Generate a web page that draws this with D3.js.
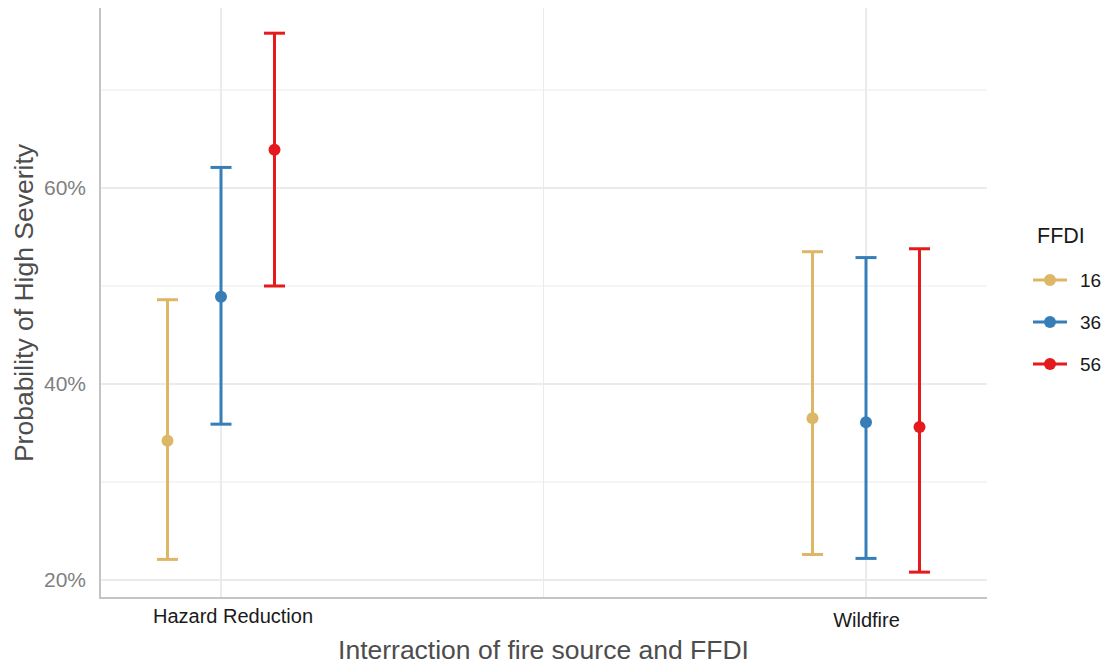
<!DOCTYPE html>
<html>
<head>
<meta charset="utf-8">
<script src="https://cdn.jsdelivr.net/npm/d3@7"></script>
<style>
  body { margin: 0; background: #fff; }
  svg { font-family: Arial, "Liberation Sans", sans-serif; }
</style>
</head>
<body>
<svg id="chart" width="1103" height="664"></svg>
<script>
// fire sources on the x axis, FFDI levels as series
const sources = ['Hazard Reduction', 'Wildfire']
const ffdi = ['16', '36', '56']
const colors = ['#DDB766', '#377EB8', '#E41A1C']

// estimate, lower and upper bound per source, in FFDI order
const estimate = {
  'Hazard Reduction': [0.342, 0.489, 0.639],
  'Wildfire': [0.365, 0.361, 0.356]
}
const lower = {
  'Hazard Reduction': [0.221, 0.359, 0.500],
  'Wildfire': [0.226, 0.222, 0.208]
}
const upper = {
  'Hazard Reduction': [0.486, 0.621, 0.758],
  'Wildfire': [0.535, 0.529, 0.538]
}
const majorTicks = [0.2, 0.4, 0.6]
const minorTicks = [0.3, 0.5, 0.7]

let svg = d3.select('#chart')
let pLeft = 100, pRight = 987, pTop = 8, pBottom = 598

let x = d3.scalePoint().domain(sources).range([pLeft, pRight]).padding(0.1876)
let dodge = d3.scalePoint().domain(ffdi).range([-53.5, 53.5])
let y = d3.scaleLinear().domain([0.1816, 0.7837]).range([pBottom, pTop])
let color = d3.scaleOrdinal().domain(ffdi).range(colors)

// grid
let grid = svg.append('g')
grid.selectAll('.minor').data(minorTicks).join('line')
  .attr('x1', pLeft).attr('x2', pRight)
  .attr('y1', d => y(d)).attr('y2', d => y(d))
  .attr('stroke', '#ebebeb').attr('stroke-width', 1)
grid.selectAll('.vminor').data([(x(sources[0]) + x(sources[1])) / 2]).join('line')
  .attr('x1', d => d).attr('x2', d => d)
  .attr('y1', pTop).attr('y2', pBottom)
  .attr('stroke', '#ebebeb').attr('stroke-width', 1)
grid.selectAll('.major').data(majorTicks).join('line')
  .attr('x1', pLeft).attr('x2', pRight)
  .attr('y1', d => y(d)).attr('y2', d => y(d))
  .attr('stroke', '#ebebeb').attr('stroke-width', 2)
grid.selectAll('.vmajor').data(sources).join('line')
  .attr('x1', d => x(d)).attr('x2', d => x(d))
  .attr('y1', pTop).attr('y2', pBottom)
  .attr('stroke', '#ebebeb').attr('stroke-width', 2)

// axes
let yAxis = d3.axisLeft(y).tickValues(majorTicks).tickFormat(d3.format('.0%')).tickSize(0).tickPadding(14)
svg.append('g').attr('transform', `translate(${pLeft},0)`).call(yAxis)
  .call(g => g.select('.domain').remove())
  .selectAll('text').attr('font-size', 21).attr('fill', '#7f7f7f')

let xAxis = d3.axisBottom(x).tickSize(0).tickPadding(11)
svg.append('g').attr('transform', `translate(0,${pBottom})`).call(xAxis)
  .call(g => g.select('.domain').remove())
  .selectAll('text').attr('font-size', 20).attr('fill', '#1a1a1a')
  .attr('dx', d => d == 'Hazard Reduction' ? 11.5 : 0)
  .attr('dy', d => d == 'Hazard Reduction' ? '0.68em' : '0.88em')

svg.append('line').attr('x1', pLeft).attr('x2', pLeft).attr('y1', pTop).attr('y2', pBottom + 1)
  .attr('stroke', '#c4c4c4').attr('stroke-width', 2)
svg.append('line').attr('x1', pLeft - 1).attr('x2', pRight).attr('y1', pBottom).attr('y2', pBottom)
  .attr('stroke', '#c4c4c4').attr('stroke-width', 2)

// error bars + points
let rows = []
sources.forEach(s => ffdi.forEach((f, i) => {
  rows.push({ source: s, ffdi: f, est: estimate[s][i], lo: lower[s][i], hi: upper[s][i] })
}))
let capW = 10.5
let marks = svg.append('g').selectAll('g').data(rows).join('g')
  .attr('transform', d => `translate(${x(d.source) + dodge(d.ffdi)},0)`)
  .attr('stroke', d => color(d.ffdi)).attr('fill', d => color(d.ffdi))
marks.append('line').attr('y1', d => y(d.lo)).attr('y2', d => y(d.hi)).attr('stroke-width', 3)
marks.append('line').attr('x1', -capW).attr('x2', capW)
  .attr('y1', d => y(d.lo)).attr('y2', d => y(d.lo)).attr('stroke-width', 3)
marks.append('line').attr('x1', -capW).attr('x2', capW)
  .attr('y1', d => y(d.hi)).attr('y2', d => y(d.hi)).attr('stroke-width', 3)
marks.append('circle').attr('cy', d => y(d.est)).attr('r', 6).attr('stroke', 'none')

// titles
svg.append('text').attr('x', (pLeft + pRight) / 2).attr('y', 659)
  .attr('text-anchor', 'middle').attr('font-size', 26.5).attr('fill', '#4d4d4d')
  .text('Interraction of fire source and FFDI')
svg.append('text').attr('transform', `translate(33,${(pTop + pBottom) / 2}) rotate(-90)`)
  .attr('text-anchor', 'middle').attr('font-size', 26.5).attr('fill', '#4d4d4d')
  .text('Probability of High Severity')

// legend
let legend = svg.append('g').attr('transform', 'translate(1033,0)')
legend.append('text').attr('x', 4).attr('y', 243).attr('font-size', 21.5).attr('fill', '#1a1a1a').text('FFDI')
let item = legend.selectAll('.item').data(ffdi).join('g')
  .attr('transform', (d, i) => `translate(0,${280 + i * 42})`)
item.append('line').attr('x1', 0).attr('x2', 34).attr('stroke', d => color(d)).attr('stroke-width', 3)
item.append('circle').attr('cx', 17).attr('r', 6).attr('fill', d => color(d))
item.append('text').attr('x', 47).attr('dy', '0.35em').attr('font-size', 19).attr('fill', '#1a1a1a').text(d => d)
</script>
</body>
</html>
